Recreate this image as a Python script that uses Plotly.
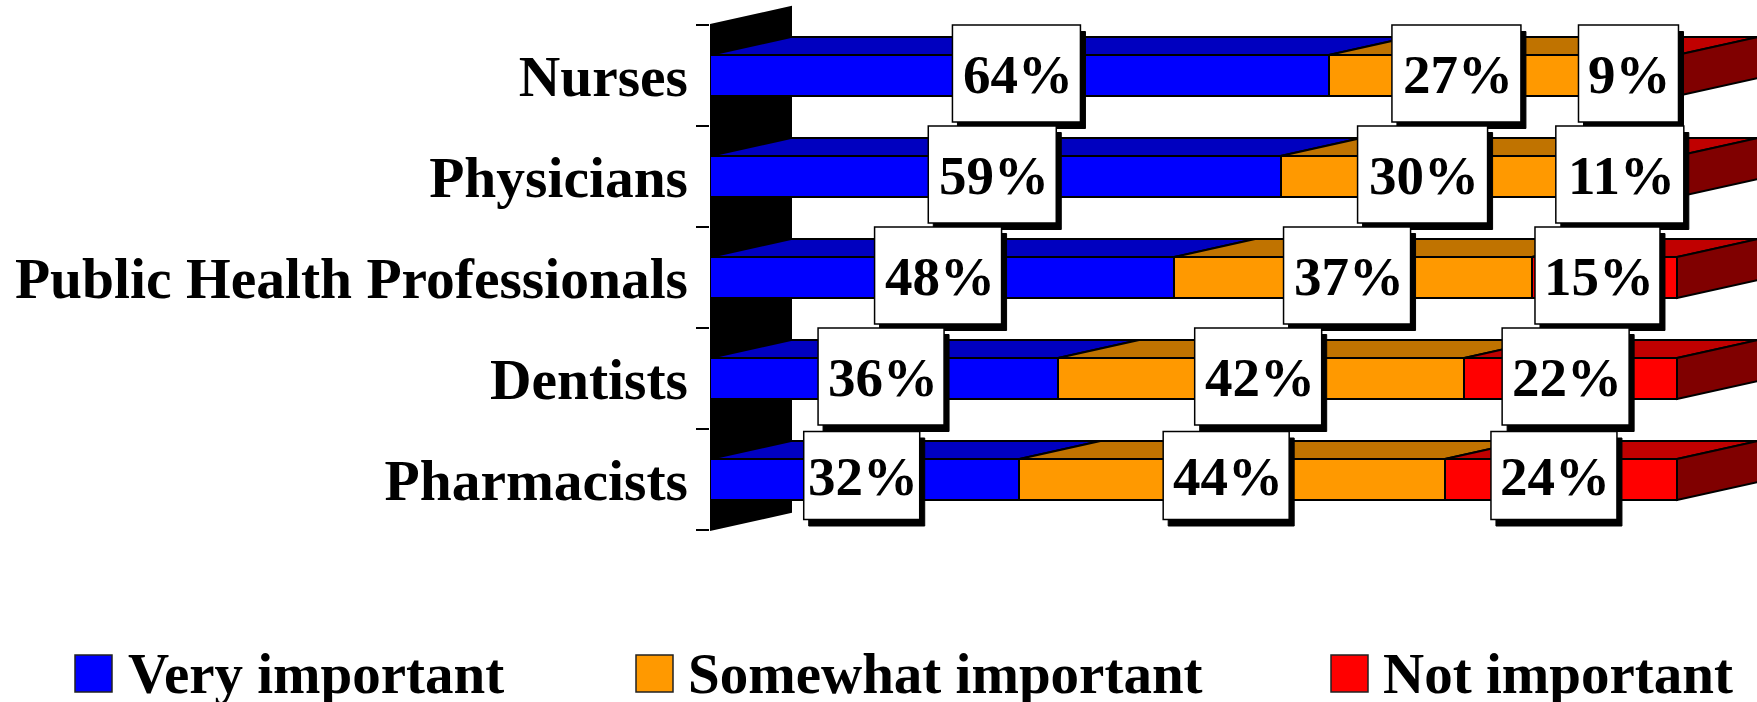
import plotly.graph_objects as go

categories = ["Nurses", "Physicians", "Public Health Professionals", "Dentists", "Pharmacists"]
series_names = ["Very important", "Somewhat important", "Not important"]
very_important = [64, 59, 48, 36, 32]
somewhat_important = [27, 30, 37, 42, 44]
not_important = [9, 11, 15, 22, 24]
series_values = [very_important, somewhat_important, not_important]

# ---- styling / layout constants (pixels of the 1757x702 page) ----
W, H = 1757, 702
AXIS_PX = 710
PX_PER_PCT = 9.67
PX_PER_ROW = 101.0
TOP_TICK_PX = 25
FRONT = ["#0000FF", "#FF9900", "#FF0000"]
TOP = ["#0000C0", "#C07300", "#C00000"]
SIDE = "#800000"
FONT = "Liberation Serif"
DEPTH_X = 81 / PX_PER_PCT
DEPTH_Y = 18 / PX_PER_ROW
BAR_W = 0.405
BOX_W = [[128, 129, 100], [128, 130, 128], [127, 127, 125], [126, 127, 127], [116, 126, 126]]
BOX_H = [97, 97, 97, 97, 88]
BOX_DY = [-2, -2, -2, -2, -4]
BOX_DX = [[-3, -3, -5], [-3, -3, -4], [-4, -6, -7], [-3, -3, -5], [-3, -6, -7]]
SHADOW = (5, 6.5)
LEGEND_SWATCH = [75, 636, 1331]
LEGEND_TEXT = [126, 686, 1381]

rows = list(range(len(categories)))
fig = go.Figure()

# front faces
for name, vals, col in zip(series_names, series_values, FRONT):
    fig.add_trace(go.Bar(y=rows, x=vals, name=name, orientation="h", width=BAR_W,
                         marker=dict(color=col, line=dict(color="black", width=2)),
                         showlegend=False))

# top faces and end faces of the 3D bars
for s, col in enumerate(TOP):
    xs, ys = [], []
    for r in rows:
        x0 = sum(series_values[k][r] for k in range(s))
        x1 = x0 + series_values[s][r]
        yt = r - BAR_W / 2
        xs += [x0, x0 + DEPTH_X, x1 + DEPTH_X, x1, x0, None]
        ys += [yt, yt - DEPTH_Y, yt - DEPTH_Y, yt, yt, None]
    fig.add_trace(go.Scatter(x=xs, y=ys, mode="lines", fill="toself", fillcolor=col,
                             line=dict(color="black", width=2), hoverinfo="skip",
                             showlegend=False))
xs, ys = [], []
for r in rows:
    x1 = sum(series_values[k][r] for k in range(3))
    yt, yb = r - BAR_W / 2, r + BAR_W / 2
    xs += [x1, x1 + DEPTH_X, x1 + DEPTH_X, x1, x1, None]
    ys += [yt, yt - DEPTH_Y, yb - DEPTH_Y, yb, yt, None]
fig.add_trace(go.Scatter(x=xs, y=ys, mode="lines", fill="toself", fillcolor=SIDE,
                         line=dict(color="black", width=2), hoverinfo="skip", showlegend=False))

shapes, annotations = [], []

# black back wall
y_top, y_bot = rows[0] - 0.5, rows[-1] + 0.5
shapes.append(dict(type="path", layer="below", xref="x", yref="y",
                   path=f"M 0,{y_top} L {DEPTH_X},{y_top - DEPTH_Y} L {DEPTH_X},{y_bot - DEPTH_Y} L 0,{y_bot} Z",
                   fillcolor="black", line=dict(color="black", width=2)))

# data labels: white box with hard drop shadow
for r in rows:
    acc = 0
    for s in range(3):
        v = series_values[s][r]
        cx = acc + v / 2 + BOX_DX[r][s] / PX_PER_PCT
        cy = r + BOX_DY[r] / PX_PER_ROW
        acc += v
        hw = BOX_W[r][s] / 2 / PX_PER_PCT
        hh = BOX_H[r] / 2 / PX_PER_ROW
        sx, sy = SHADOW[0] / PX_PER_PCT, SHADOW[1] / PX_PER_ROW
        shapes.append(dict(type="rect", layer="above", xref="x", yref="y",
                           x0=cx - hw + sx, x1=cx + hw + sx, y0=cy - hh + sy, y1=cy + hh + sy,
                           fillcolor="black", line=dict(color="black", width=1)))
        shapes.append(dict(type="rect", layer="above", xref="x", yref="y",
                           x0=cx - hw, x1=cx + hw, y0=cy - hh, y1=cy + hh,
                           fillcolor="white", line=dict(color="black", width=1.5)))
        annotations.append(dict(x=cx + 1.5 / PX_PER_PCT, y=cy, xref="x", yref="y", text=f"{v}%", showarrow=False,
                                xanchor="center", yanchor="middle", yshift=-1,
                                font=dict(family=FONT, size=55, color="black", weight="bold")))

# legend
def px(x):
    return (x - AXIS_PX) / (W - AXIS_PX)

for name, col, sw, tx in zip(series_names, FRONT, LEGEND_SWATCH, LEGEND_TEXT):
    shapes.append(dict(type="rect", xref="paper", yref="paper", layer="above",
                       x0=px(sw), x1=px(sw + 37), y0=1 - 655 / H, y1=1 - 692 / H,
                       fillcolor=col, line=dict(color="#222222", width=1.5)))
    annotations.append(dict(x=px(tx), y=1 - 673.5 / H, xref="paper", yref="paper", text=name,
                            showarrow=False, xanchor="left", yanchor="middle",
                            font=dict(family=FONT, size=57, color="black", weight="bold")))

fig.update_layout(
    width=W, height=H, autosize=False,
    margin=dict(l=AXIS_PX, r=0, t=0, b=0, pad=0),
    paper_bgcolor="white", plot_bgcolor="white",
    barmode="stack", showlegend=False,
    shapes=shapes, annotations=annotations,
    xaxis=dict(range=[0, (W - AXIS_PX) / PX_PER_PCT], visible=False, fixedrange=True),
    yaxis=dict(range=[(H - TOP_TICK_PX) / PX_PER_ROW - 0.5, -0.5 - TOP_TICK_PX / PX_PER_ROW],
               tickmode="array", tickvals=rows, ticktext=categories,
               ticks="", showgrid=False, zeroline=False, showline=False,
               ticklabelstandoff=21, fixedrange=True,
               tickfont=dict(family=FONT, size=57.5, color="black", weight="bold"),
               minor=dict(tickmode="array", tickvals=[r - 0.5 for r in rows] + [rows[-1] + 0.5],
                          ticks="outside", ticklen=13, tickwidth=2, tickcolor="black", showgrid=False)),
)

fig.write_html("out.html", config={"displayModeBar": False},
               post_script="document.body.style.margin='0';document.body.style.overflow='hidden';")
